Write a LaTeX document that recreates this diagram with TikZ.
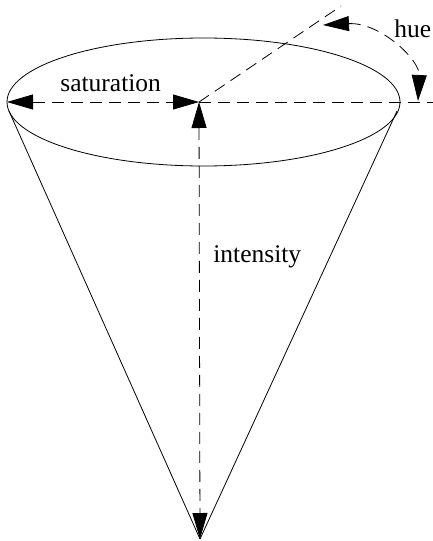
\documentclass[tikz,border=0pt]{standalone}
\usepackage{fontspec}
\setmainfont{Liberation Serif}
\usetikzlibrary{arrows.meta,shapes.geometric}
\begin{document}
\begin{tikzpicture}[x=1pt,y=-1pt,
  line width=0.8pt,
  dashline/.style={dash pattern=on 12pt off 7pt},
  bothtips/.style={{Triangle[length=26pt,width=15pt]}-{Triangle[length=26pt,width=15pt]}},
  lbl/.style={anchor=base west,inner sep=0pt,font=\fontsize{25.5}{30}\selectfont}]
\useasboundingbox (0,0) rectangle (433,541);
% key points
\coordinate (center) at (199,102);
\coordinate (apex) at (200,539);
\coordinate (leftpt) at (7,102);
\coordinate (rightend) at (440,102);
\coordinate (hueend) at (341,6);
\coordinate (tanL) at (9,111);
\coordinate (tanR) at (397,111);
\coordinate (hueA) at (323,25);
\coordinate (hueB) at (418,101);
% ellipse top of cone
\node[draw,ellipse,minimum width=393pt,minimum height=128pt,inner sep=0pt] (top) at (203.5,102) {};
% cone sides
\draw (tanL) -- (apex);
\draw (tanR) -- (apex);
% dashed lines
\draw[dashline] (center) -- (rightend);
\draw[dashline] (center) -- (hueend);
\draw[dashline,bothtips] (leftpt) -- (center);
\draw[dashline,bothtips] (center) -- (apex);
\draw[dashline,bothtips] (hueA) .. controls (380,22) and (420,60) .. (hueB);
% labels
\node[lbl] (sat) at (60,91) {saturation};
\node[lbl] (int) at (213,262) {intensity};
\node[lbl] (hue) at (394,37) {hue};
\end{tikzpicture}
\end{document}
